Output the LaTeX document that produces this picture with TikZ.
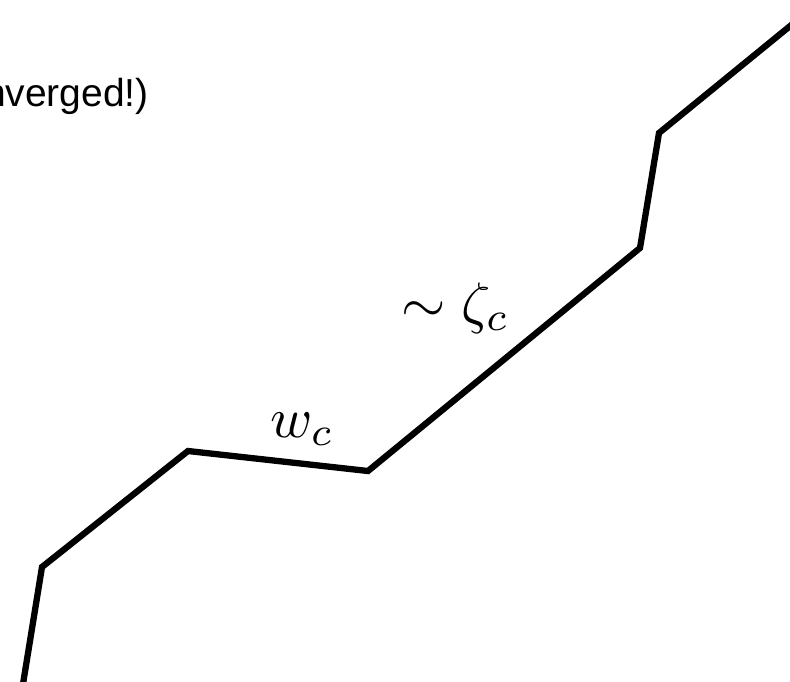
\documentclass[tikz,border=0pt]{standalone}
\usepackage{fontspec}
\newfontfamily\arialf{Liberation Sans}
\tikzset{
  curve/.style={line width=6.3pt, line join=miter, black},
  lbl/.style={inner sep=0pt, scale=5.7, transform shape},
  txt/.style={inner sep=0pt, font=\arialf\fontsize{39}{44}\selectfont}
}
\begin{document}
\begin{tikzpicture}[x=1pt,y=-1pt]
\useasboundingbox (0,0) rectangle (790,681);
\coordinate (p0) at (23,684);
\coordinate (p1) at (42,567);
\coordinate (p2) at (188,451);
\coordinate (p3) at (368,471);
\coordinate (p4) at (640,248);
\coordinate (p5) at (659,133);
\coordinate (p6) at (795,22);
\draw[curve] (p0) -- (p1) -- (p2) -- (p3) -- (p4) -- (p5) -- (p6);
\node[txt, anchor=base east] (t) at (149,106) {nverged!)};
\node[lbl, anchor=base west] (w) at (269,437) {$w_c$};
\node[lbl, anchor=base west] (z) at (400,322) {$\sim\zeta_c$};
\end{tikzpicture}
\end{document}
